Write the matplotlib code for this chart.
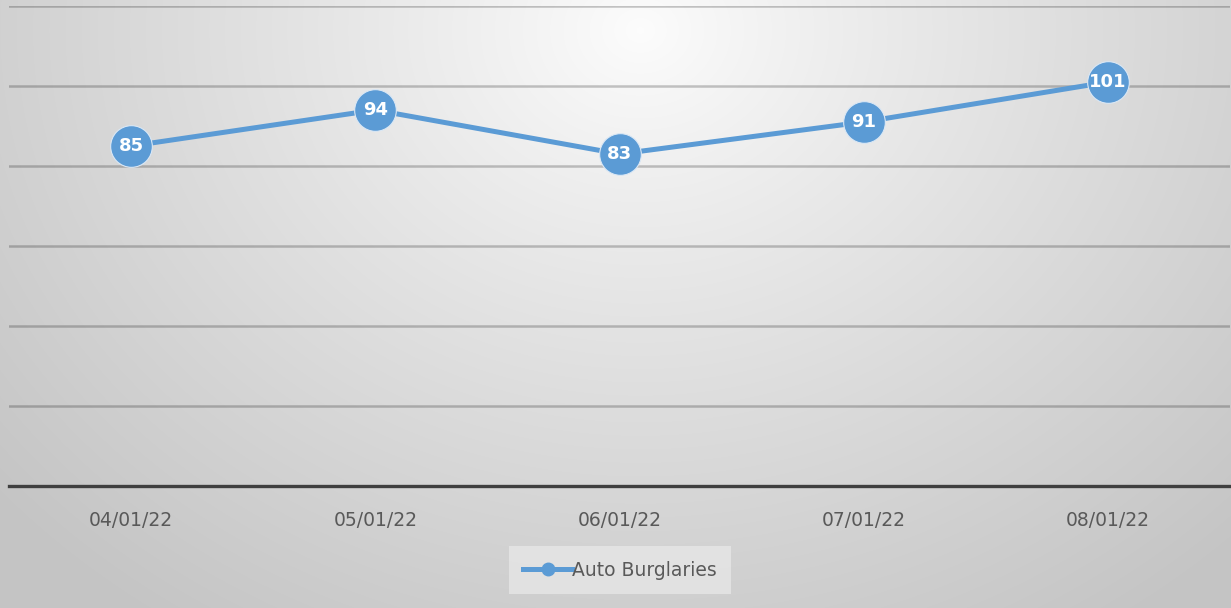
import numpy as np
import matplotlib
matplotlib.use("Agg")
import matplotlib.pyplot as plt
from matplotlib.lines import Line2D

dates = ["04/01/22", "05/01/22", "06/01/22", "07/01/22", "08/01/22"]
burglaries = [85, 94, 83, 91, 101]
series_name = "Auto Burglaries"

blue = "#5B9BD5"
grey_text = "#595959"

fig = plt.figure(figsize=(12.31, 6.08), dpi=100)

# radial gradient background, white at the top centre
bg = fig.add_axes([0, 0, 1, 1], zorder=0)
h, w = 608, 1231
yy, xx = np.mgrid[0:h, 0:w]
d = np.sqrt(((xx - 640) / 850.0) ** 2 + ((yy - 30) / 720.0) ** 2)
d = np.clip(d, 0, 1)
val = 0.99 - 0.22 * d ** 0.9
img = np.dstack([val, val, val])
bg.imshow(img, aspect="auto", extent=[0, 1, 0, 1], origin="upper")
bg.axis("off")

ax = fig.add_axes([9 / 1231, 122 / 608, 1221 / 1231, 480 / 608], zorder=1)
ax.patch.set_alpha(0)
x = np.arange(len(dates))

ax.set_ylim(0, 120)
ax.set_xlim(-0.5, len(dates) - 0.5)
ax.set_yticks(range(20, 121, 20))
ax.grid(axis="y", color="black", alpha=0.22, linewidth=1.8)
ax.set_axisbelow(True)
for s in ["top", "left", "right"]:
    ax.spines[s].set_visible(False)
ax.spines["bottom"].set_color("#3f3f3f")
ax.spines["bottom"].set_linewidth(2.4)
ax.tick_params(axis="y", left=False, labelleft=False)
ax.tick_params(axis="x", length=0, pad=18, labelsize=13.5, labelcolor=grey_text)
ax.set_xticks(x)
ax.set_xticklabels(dates)

ax.plot(x, burglaries, color=blue, linewidth=3.6, marker="o", markersize=30,
        markerfacecolor=blue, markeredgecolor="#dbe8f5", markeredgewidth=0.8,
        label=series_name, zorder=3)
for xi, v in zip(x, burglaries):
    ax.text(xi, v, str(v), ha="center", va="center", color="white",
            fontsize=13, fontweight="bold", zorder=4)

handle = Line2D([0], [0], color=blue, linewidth=3.6, marker="o", markersize=9,
                markerfacecolor=blue, markeredgecolor=blue)
leg = fig.legend([handle], [series_name], loc="center",
                 bbox_to_anchor=(620 / 1231, 1 - 570 / 608),
                 frameon=True, fontsize=13.5, handlelength=2.6, handletextpad=0.0,
                 borderpad=0.75, borderaxespad=0, fancybox=False)
leg.get_frame().set_facecolor("#e4e4e4")
leg.get_frame().set_edgecolor("none")
leg.get_frame().set_alpha(0.9)
leg._legend_box.sep = 0
for t in leg.get_texts():
    t.set_color(grey_text)

fig.savefig("out.png", dpi=100)
